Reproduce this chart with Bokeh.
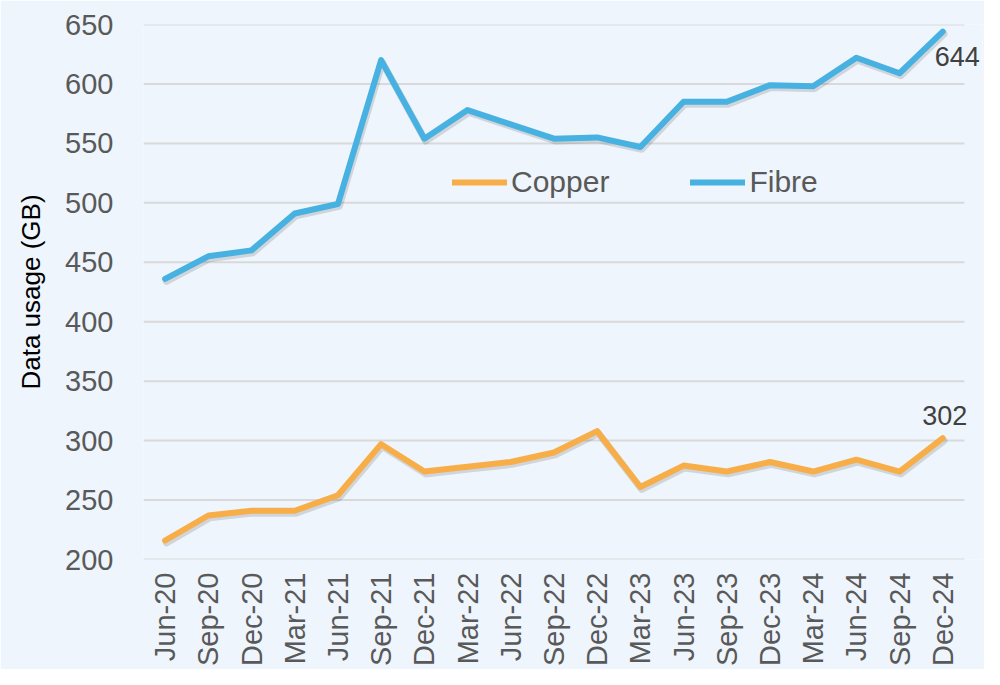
import math
from bokeh.plotting import figure
from bokeh.models import ColumnDataSource, Legend, LegendItem, Range1d, FixedTicker, Label
from bokeh.transform import dodge
from bokeh.embed import file_html
from bokeh.resources import INLINE

quarters = ["Jun-20", "Sep-20", "Dec-20", "Mar-21", "Jun-21", "Sep-21", "Dec-21",
            "Mar-22", "Jun-22", "Sep-22", "Dec-22", "Mar-23", "Jun-23", "Sep-23",
            "Dec-23", "Mar-24", "Jun-24", "Sep-24", "Dec-24"]
copper = [216, 237, 241, 241, 254, 297, 274, 278, 282, 290, 308, 261, 279, 274,
          282, 274, 284, 274, 302]
fibre = [436, 455, 460, 491, 499, 620, 554, 578, 566, 554, 555, 547, 585, 585,
         599, 598, 622, 609, 644]
y_ticks = [200, 250, 300, 350, 400, 450, 500, 550, 600, 650]

FONT = "Liberation Sans"
BG = "#EEF5FC"
ORANGE = "#F8AE48"
BLUE = "#47B1E1"
FS = "29px"

n = len(quarters)
idx = list(range(n))
src = ColumnDataSource(dict(
    i=idx, copper=copper, fibre=fibre,
    copper_sh=[v - 2 for v in copper], fibre_sh=[v - 2 for v in fibre],
))

# numeric x so that the end labels may extend past the last band;
# each quarter occupies one unit band centred on its index
x_lo, x_hi = -0.5, n - 0.5
p = figure(x_range=Range1d(x_lo, x_hi + 0.42), y_range=Range1d(y_ticks[0], y_ticks[-1]),
           width=984, height=669, output_backend="svg", toolbar_location=None,
           background_fill_color=BG, border_fill_color=BG, outline_line_color=None,
           min_border_left=143, min_border_right=2, min_border_top=24, min_border_bottom=107)

# horizontal gridlines spanning only the category bands
p.segment(x0=[x_lo] * len(y_ticks), x1=[x_hi] * len(y_ticks), y0=y_ticks, y1=y_ticks,
          line_color="#D9D9D9", line_width=2, level="underlay")

# soft shadows
for col in ("copper_sh", "fibre_sh"):
    p.line(x=dodge("i", 0.03), y=col, source=src, line_width=7,
           line_color="#000000", line_alpha=0.13, line_join="round", line_cap="round")

r_cu = p.line(x="i", y="copper", source=src, line_width=6, line_color=ORANGE,
              line_join="round", line_cap="round")
r_fi = p.line(x="i", y="fibre", source=src, line_width=6, line_color=BLUE,
              line_join="round", line_cap="round")

# end labels
p.add_layout(Label(x=idx[-1], y=fibre[-1], text=str(fibre[-1]), x_offset=-8, y_offset=-25,
                   text_align="left", text_baseline="middle", text_font=FONT,
                   text_font_size="27px", text_color="#404040"))
p.add_layout(Label(x=idx[-1], y=copper[-1], text=str(copper[-1]), x_offset=2, y_offset=23,
                   text_align="center", text_baseline="middle", text_font=FONT,
                   text_font_size="27px", text_color="#404040"))

p.xaxis.ticker = FixedTicker(ticks=idx)
p.xaxis.major_label_overrides = {i: q for i, q in zip(idx, quarters)}
p.yaxis.ticker = FixedTicker(ticks=y_ticks)
p.yaxis.axis_label = "Data usage (GB)"
p.yaxis.axis_label_text_font = FONT
p.yaxis.axis_label_text_font_style = "normal"
p.yaxis.axis_label_text_font_size = "26px"
p.yaxis.axis_label_text_color = "#000000"
p.yaxis.axis_label_standoff = 16
p.axis.major_label_text_font = FONT
p.axis.major_label_text_font_size = FS
p.axis.major_label_text_color = "#595959"
p.axis.axis_line_color = None
p.axis.major_tick_line_color = None
p.axis.minor_tick_line_color = None
p.yaxis.major_label_standoff = 24
p.xaxis.major_label_orientation = math.pi / 2
p.xaxis.major_label_standoff = 7

p.xgrid.grid_line_color = None
p.ygrid.grid_line_color = None

legend = Legend(items=[LegendItem(label="Copper", renderers=[r_cu]),
                       LegendItem(label="Fibre", renderers=[r_fi])],
                orientation="horizontal", location=(309, 360),
                background_fill_alpha=0, border_line_color=None,
                label_text_font=FONT, label_text_font_size="30px",
                label_text_color="#595959", glyph_width=55, glyph_height=30,
                label_standoff=4, spacing=81, padding=0, margin=0)
p.add_layout(legend, "center")

open("out.html", "w").write(file_html(p, INLINE))
